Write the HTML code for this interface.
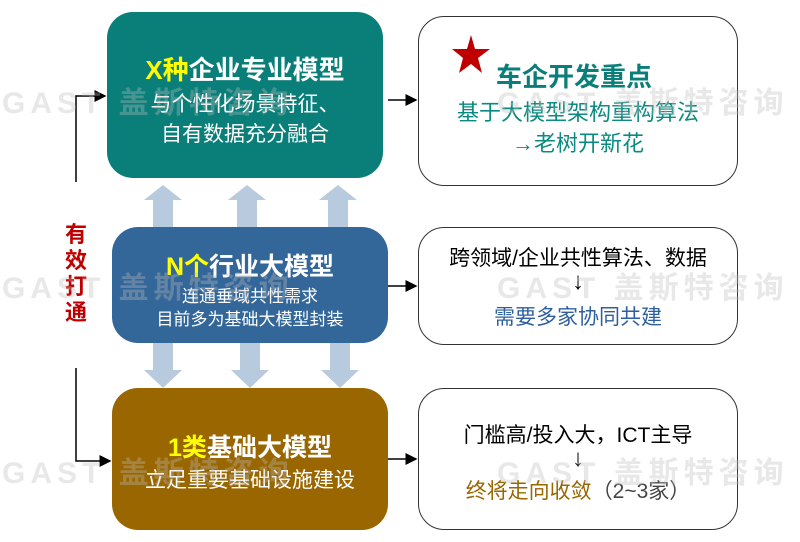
<!DOCTYPE html><html><head><meta charset="utf-8"><style>
body{margin:0;width:800px;height:542px;background:#fff;position:relative;overflow:hidden;font-family:"Liberation Sans","Noto Sans CJK SC",sans-serif}
.a{position:absolute}
.box{position:absolute;border-radius:26px;color:#fff;text-align:center}
.rb{position:absolute;border:1.5px solid #333;border-radius:26px;background:#fff;text-align:center;box-sizing:border-box}
.wm{position:absolute;color:rgba(190,190,190,0.35);font-weight:bold;font-size:30px;letter-spacing:5px;white-space:nowrap;z-index:10}
.t{position:absolute;left:0;right:0;white-space:nowrap}
</style></head><body>
<div class="wm" style="left:2px;top:78px">GAST 盖斯特咨询</div>
<div class="wm" style="left:497px;top:78px">GAST 盖斯特咨询</div>
<div class="wm" style="left:2px;top:263px">GAST 盖斯特咨询</div>
<div class="wm" style="left:497px;top:263px">GAST 盖斯特咨询</div>
<div class="wm" style="left:2px;top:448px">GAST 盖斯特咨询</div>
<div class="wm" style="left:497px;top:448px">GAST 盖斯特咨询</div>
<svg class="a" style="left:0;top:0" width="800" height="542">
<defs><marker id="m" markerWidth="8" markerHeight="8" refX="7" refY="4" orient="auto"><path d="M0,0L8,4L0,8z" fill="#000"/></marker></defs>
<g fill="#b8cadd">
<path d="M153,227V200H144L163,185L182,200H173V227z"/>
<path d="M237,227V200H228L247,185L266,200H257V227z"/>
<path d="M328,227V200H319L338,185L357,200H348V227z"/>
<path d="M153,343V370H144L163,388L182,370H173V343z"/>
<path d="M240,343V370H231L250,388L269,370H260V343z"/>
<path d="M330,343V370H321L340,388L359,370H350V343z"/>
</g>
<g stroke="#000" stroke-width="1.5" fill="none">
<path d="M76,182V96H105" marker-end="url(#m)"/>
<path d="M76,368V461H110" marker-end="url(#m)"/>
<path d="M388,100H416" marker-end="url(#m)"/>
<path d="M388,286H416" marker-end="url(#m)"/>
<path d="M388,459H416" marker-end="url(#m)"/>
</g>
</svg>
<div class="a" style="left:64px;top:222px;width:24px;color:#c00000;font-weight:bold;font-size:22px;line-height:26px;text-align:center">有<br>效<br>打<br>通</div>
<div class="box" style="left:107px;top:12px;width:276px;height:166px;background:#0a7f7a">
<div class="t" style="top:38px;font-size:26px;font-weight:bold"><span style="color:#ff0">X种</span>企业专业模型</div>
<div class="t" style="top:76px;font-size:21px">与个性化场景特征、</div>
<div class="t" style="top:106px;font-size:21px">自有数据充分融合</div></div>
<div class="box" style="left:112px;top:227px;width:276px;height:116px;background:#336699">
<div class="t" style="top:20px;font-size:25px;font-weight:bold"><span style="color:#ff0">N个</span>行业大模型</div>
<div class="t" style="top:55px;font-size:17px">连通垂域共性需求</div>
<div class="t" style="top:78px;font-size:17px">目前多为基础大模型封装</div></div>
<div class="box" style="left:112px;top:388px;width:276px;height:142px;background:#996600">
<div class="t" style="top:40px;font-size:25px;font-weight:bold"><span style="color:#ff0">1类</span>基础大模型</div>
<div class="t" style="top:76px;font-size:21px">立足重要基础设施建设</div></div>
<div class="rb" style="left:418px;top:16px;width:320px;height:170px">
<div class="a" style="left:77px;top:40px;font-size:26px;font-weight:bold;color:#0a7f7a;white-space:nowrap">车企开发重点</div>
<div class="t" style="top:78px;font-size:22px;color:#0a8a80">基于大模型架构重构算法</div>
<div class="t" style="top:109px;font-size:22px;color:#0a8a80">→老树开新花</div></div>
<svg class="a" style="left:0;top:0;z-index:5" width="800" height="120"><path d="M471,35L475,49L490,49L478,58L482,73L471,64L459,73L463,58L452,49L467,49z" fill="#c00000"/></svg>
<div class="rb" style="left:418px;top:227px;width:320px;height:118px">
<div class="t" style="top:14px;font-size:21px;color:#000">跨领域/企业共性算法、数据</div>
<div class="t" style="top:40px;font-size:24px;color:#000">↓</div>
<div class="t" style="top:73px;font-size:21px;color:#2e5f9e">需要多家协同共建</div></div>
<div class="rb" style="left:418px;top:388px;width:320px;height:142px">
<div class="t" style="top:30px;font-size:21px;color:#000">门槛高/投入大，ICT主导</div>
<div class="t" style="top:56px;font-size:24px;color:#000">↓</div>
<div class="t" style="top:86px;font-size:21px;color:#996600">终将走向收敛<span style="color:#444">（2~3家）</span></div></div>
</body></html>
